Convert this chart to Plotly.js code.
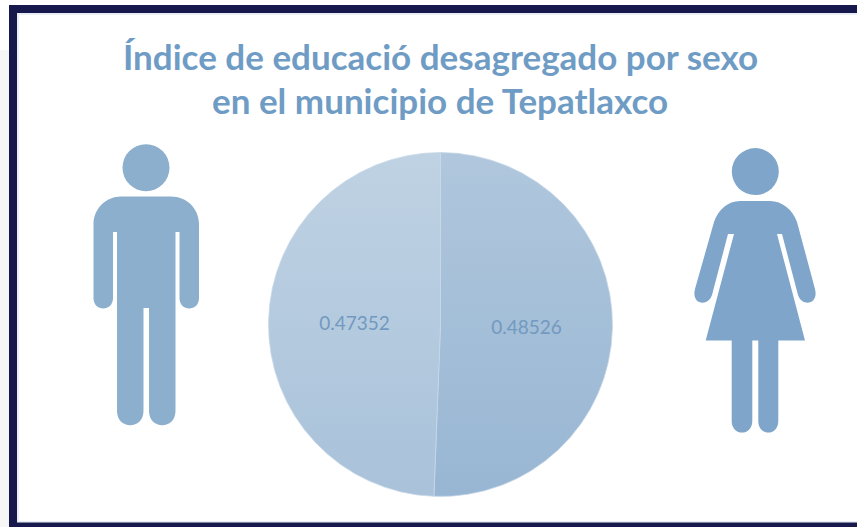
<!DOCTYPE html>
<html><head><meta charset="utf-8">
<script src="https://cdn.plot.ly/plotly-3.0.0.min.js"></script>
<style>html,body{margin:0;padding:0;background:#fff;overflow:hidden}</style>
</head><body><div id="chart" style="width:857px;height:527px"></div>
<script>
const sexLabels = ['Mujeres', 'Hombres'];
const indexValues = [0.48526, 0.47352];
const valueLabels = ['0.48526', '0.47352'];
const titleLines = ['Índice de educació desagregado por sexo', 'en el municipio de Tepatlaxco'];

const W = 857, H = 527;
const fx = x => (x / W).toFixed(5);
const fy = y => (1 - y / H).toFixed(5);
const P = (x, y) => fx(x) + ',' + fy(y);
function shapePath(segs) {
  return segs.map(s => {
    if (s[0] === 'Z') return 'Z';
    return s[0] + s.slice(1).reduce((a, v, i, arr) => i % 2 ? a : a.concat(P(v, arr[i + 1])), []).join(' ');
  }).join(' ');
}
function disc(cx, cy, r, color) {
  return {type:'circle', xref:'paper', yref:'paper', x0:(cx-r)/W, x1:(cx+r)/W, y0:1-(cy+r)/H, y1:1-(cy-r)/H, line:{width:0}, fillcolor:color};
}
function path(segs, color) {
  return {type:'path', xref:'paper', yref:'paper', path:shapePath(segs), line:{width:0}, fillcolor:color};
}
function rect(x0, y0, x1, y1, color) {
  return {type:'rect', xref:'paper', yref:'paper', x0:x0/W, x1:x1/W, y0:1-y1/H, y1:1-y0/H, line:{width:0}, fillcolor:color};
}
const navy = '#17184b', man = '#8cafcd', woman = '#7fa5ca', pale = '#e6edf5';

const manBody = path([
  ['M',121,196.5],['L',171,196.5],['C',187,196.5,199,209,199,224],['L',199,298],
  ['C',199,312,179.5,312,179.5,298],['L',179.5,232],['L',175.5,232],['L',175.5,411],
  ['C',175.5,430,149,430,149,411],['L',149,308],['L',143.5,308],['L',143.5,411],
  ['C',143.5,430,117,430,117,411],['L',117,232],['L',113,232],['L',113,298],
  ['C',113,312,93.5,312,93.5,298],['L',93.5,224],['C',93.5,209,106,196.5,121,196.5],['Z']
], man);

const womanBody = path([
  ['M',740,201],['L',770,201],['C',782,201,793,210,797,222],['L',815,289],
  ['C',819,305,802,307,798,295],['L',782,234],['L',777,234],['L',805,340.5],
  ['L',778.3,340.5],['L',778.3,421],['C',778.3,436.5,758.3,436.5,758.3,421],['L',758.3,340.5],
  ['L',752.3,340.5],['L',752.3,421],['C',752.3,436.5,731.7,436.5,731.7,421],['L',731.7,340.5],
  ['L',705.7,340.5],['L',734,234],['L',728,234],['L',712,295],
  ['C',708,307,691,305,695,289],['L',714,222],['C',718,210,728,201,740,201],['Z']
], woman);

const shapes = [
  rect(0, 50, 9, 527, '#f6f6f6'),
  rect(17, 13, 857, 14.7, pale),
  rect(17, 13, 18.7, 522, pale),
  rect(17, 521, 857, 522.6, pale),
  rect(9, 5, 857, 13, navy),
  rect(9, 5, 17, 527, navy),
  rect(9, 522.6, 857, 527, navy),
  disc(146, 167.7, 23.5, man), manBody,
  disc(755.3, 171.6, 23.5, woman), womanBody
];

const trace = {
  type:'pie', labels:sexLabels, values:indexValues, text:valueLabels,
  textinfo:'text', textposition:'inside', insidetextorientation:'horizontal',
  insidetextfont:{family:'Lato, sans-serif', size:19, color:'#7299c0'},
  sort:false, direction:'clockwise', rotation:0, showlegend:false, hoverinfo:'label+text',
  marker:{colors:['#a3bdd8','#b5cbdf'], line:{width:0.75, color:'#c8d8e8'}},
  domain:{x:[268.5/W,612.5/W], y:[1-496.5/H,1-152.5/H]}
};

const layout = {
  width:W, height:H, margin:{l:0,r:0,t:0,b:0}, paper_bgcolor:'#ffffff', plot_bgcolor:'#ffffff',
  showlegend:false, shapes:shapes,
  annotations:[
    {text:titleLines[0], xref:'paper', yref:'paper', x:440/W, y:1-55.5/H, xanchor:'center', yanchor:'middle', showarrow:false,
     font:{family:'Lato, sans-serif', size:35, color:'#6f9cc4', weight:700}},
    {text:titleLines[1], xref:'paper', yref:'paper', x:440/W, y:1-100.5/H, xanchor:'center', yanchor:'middle', showarrow:false,
     font:{family:'Lato, sans-serif', size:35, color:'#6f9cc4', weight:700}}
  ]
};

Plotly.newPlot('chart', [trace], layout, {displayModeBar:false, staticPlot:true}).then(gd => {
  const svg = gd.querySelector('svg.main-svg');
  const NS = 'http://www.w3.org/2000/svg';
  const defs = svg.querySelector('defs') || svg.insertBefore(document.createElementNS(NS,'defs'), svg.firstChild);
  const grads = [['gradR','#b0c7dd','#98b6d3'],['gradL','#bfd2e3','#a9c2da']];
  grads.forEach(g => {
    const lg = document.createElementNS(NS,'linearGradient');
    lg.setAttribute('id', g[0]); lg.setAttribute('x1','0'); lg.setAttribute('y1','0'); lg.setAttribute('x2','0'); lg.setAttribute('y2','1');
    [[0,g[1]],[1,g[2]]].forEach(s => {
      const st = document.createElementNS(NS,'stop');
      st.setAttribute('offset', s[0]); st.setAttribute('stop-color', s[1]); lg.appendChild(st);
    });
    defs.appendChild(lg);
  });
  gd.querySelectorAll('.slice path.surface').forEach((p,i) => { p.style.fill = 'url(#' + grads[i][0] + ')'; });
});
</script></body></html>
